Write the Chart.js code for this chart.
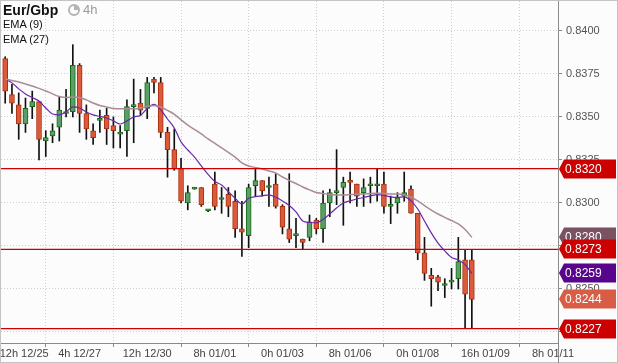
<!DOCTYPE html>
<html>
<head>
<meta charset="utf-8">
<script src="https://cdn.jsdelivr.net/npm/chart.js@4.4.1/dist/chart.umd.min.js"></script>
<style>
    html, body { margin: 0; padding: 0; background: #fcfcfc; }
    #wrap { position: relative; width: 618px; height: 363px; }
    .lbl { position: absolute; font-family: "Liberation Sans", Arial, sans-serif; white-space: nowrap; color: #111; }
    .title { left: 3px; top: 2px; font-size: 14px; line-height: 16px; font-weight: bold; }
    .tf { left: 83px; top: 2px; font-size: 13px; line-height: 16px; color: #9a9a9a; }
    .ema { left: 3px; font-size: 11px; line-height: 13px; }
    .clock { position: absolute; left: 68px; top: 4px; width: 8px; height: 8px; border-radius: 50%;
             border: 2px solid #b4b4b4; background: conic-gradient(#b4b4b4 0 25%, #fcfcfc 25% 100%); }
</style>
</head>
<body>
<div id="wrap">
    <canvas id="fxChart"></canvas>
    <div class="lbl title">Eur/Gbp</div>
    <span class="clock"></span>
    <div class="lbl tf">4h</div>
    <div class="lbl ema" style="top:18px">EMA (9)</div>
    <div class="lbl ema" style="top:33px">EMA (27)</div>
</div>
<script>
// 4h candles
const opens  = [0.8384, 0.8363, 0.8357, 0.8346, 0.8356, 0.8359, 0.8336, 0.8339, 0.8344, 0.8352,
                0.8353, 0.8380, 0.8352, 0.8342, 0.8348, 0.8351, 0.8345, 0.8340, 0.8342, 0.8356,
                0.8358, 0.8355, 0.8372, 0.8370, 0.8341, 0.8331, 0.8320, 0.8300, 0.8308, 0.8309,
                0.82955, 0.8311, 0.8302, 0.8305, 0.8301, 0.8285, 0.8281, 0.8310, 0.8313, 0.8309,
                0.8311, 0.8298, 0.8285, 0.8281, 0.8279, 0.8280, 0.8290, 0.8285, 0.8300, 0.8306,
                0.8309, 0.8313, 0.8311, 0.8306, 0.8310, 0.8310, 0.8311, 0.8298, 0.8300, 0.8304,
                0.8308, 0.8294, 0.8271, 0.8258, 0.8257, 0.8252, 0.8254, 0.8256, 0.8267, 0.8267];
const highs  = [0.8385, 0.8369, 0.8364, 0.8361, 0.8365, 0.8359, 0.8342, 0.8346, 0.8362, 0.8366,
                0.8392, 0.8381, 0.8357, 0.8346, 0.8354, 0.8355, 0.8350, 0.8345, 0.8360, 0.8372,
                0.8366, 0.8373, 0.8373, 0.8373, 0.8344, 0.8343, 0.8326, 0.8310, 0.8309, 0.8309,
                0.8296, 0.8318, 0.8309, 0.8309, 0.8307, 0.8301, 0.8311, 0.8320, 0.8313, 0.8315,
                0.8317, 0.8299, 0.8317, 0.8291, 0.8279, 0.8293, 0.8291, 0.8307, 0.8308, 0.8331,
                0.8315, 0.8318, 0.8311, 0.8314, 0.8315, 0.8320, 0.8318, 0.8304, 0.8306, 0.8318,
                0.8310, 0.8294, 0.8280, 0.8262, 0.8258, 0.8256, 0.8262, 0.8280, 0.8273, 0.8273];
const lows   = [0.8358, 0.8352, 0.8337, 0.8341, 0.8349, 0.8325, 0.8327, 0.8335, 0.8336, 0.8350,
                0.8350, 0.8341, 0.8337, 0.8334, 0.8341, 0.8334, 0.8332, 0.8332, 0.8327, 0.8335,
                0.8351, 0.8349, 0.8364, 0.8338, 0.8315, 0.8319, 0.8300, 0.8296, 0.8308, 0.8298,
                0.8295, 0.8296, 0.8294, 0.8292, 0.8280, 0.8269, 0.8274, 0.8304, 0.8304, 0.8298,
                0.8297, 0.8282, 0.8277, 0.8274, 0.8273, 0.8278, 0.8282, 0.8277, 0.8292, 0.8299,
                0.8287, 0.8300, 0.8298, 0.8298, 0.8300, 0.8301, 0.8294, 0.8288, 0.8294, 0.8301,
                0.8294, 0.8267, 0.8255, 0.8240, 0.8249, 0.8245, 0.8250, 0.8250, 0.8227, 0.8227];
const closes = [0.8365, 0.8358, 0.8346, 0.8355, 0.8359, 0.8337, 0.8338, 0.8342, 0.8354, 0.8353,
                0.8380, 0.8352, 0.8343, 0.8338, 0.8349, 0.8343, 0.8342, 0.8341, 0.8356, 0.8357,
                0.8354, 0.8370, 0.8370, 0.8341, 0.8331, 0.8320, 0.8301, 0.8306, 0.8309, 0.8299,
                0.8296, 0.8298, 0.8303, 0.8298, 0.8285, 0.8283, 0.8309, 0.8313, 0.8307, 0.8310,
                0.8298, 0.8286, 0.8279, 0.82815, 0.8277, 0.8289, 0.8285, 0.8300, 0.8306, 0.83065,
                0.8312, 0.8312, 0.8304, 0.8309, 0.83105, 0.83105, 0.8298, 0.8299, 0.8303, 0.8306,
                0.8294, 0.8271, 0.8259, 0.8256, 0.8254, 0.82525, 0.82545, 0.8266, 0.8247, 0.8244];

const ema9  = [0.83721, 0.83698, 0.83663, 0.83634, 0.83613, 0.83593, 0.83552, 0.83517, 0.83512, 0.83529,
               0.83558, 0.83552, 0.83529, 0.83512, 0.83503, 0.83494, 0.83477, 0.83459, 0.83477, 0.83500,
               0.83509, 0.83549, 0.83573, 0.83541, 0.83488, 0.83436, 0.83355, 0.83308, 0.83267, 0.83215,
               0.83166, 0.83125, 0.83105, 0.83066, 0.83027, 0.82994, 0.83027, 0.83037, 0.83041, 0.83047,
               0.83033, 0.83012, 0.82985, 0.82948, 0.82895, 0.82887, 0.82884, 0.82904, 0.82936, 0.82971,
               0.83000, 0.83012, 0.83023, 0.83032, 0.83041, 0.83049, 0.83044, 0.83035, 0.83032, 0.83035,
               0.83012, 0.82965, 0.82895, 0.82826, 0.82767, 0.82721, 0.82683, 0.82669, 0.82642, 0.8259];
const ema27 = [0.83721, 0.83712, 0.83703, 0.83692, 0.83680, 0.83666, 0.83651, 0.83634, 0.83619, 0.83613,
               0.83616, 0.83613, 0.83599, 0.83581, 0.83567, 0.83558, 0.83549, 0.83547, 0.83547, 0.83547,
               0.83552, 0.83561, 0.83567, 0.83558, 0.83538, 0.83515, 0.83483, 0.83453, 0.83427, 0.83401,
               0.83372, 0.83346, 0.83320, 0.83294, 0.83267, 0.83233, 0.83215, 0.83206, 0.83198, 0.83186,
               0.83174, 0.83151, 0.83131, 0.83113, 0.83093, 0.83076, 0.83061, 0.83055, 0.83049, 0.83047,
               0.83047, 0.83049, 0.83051, 0.83052, 0.83055, 0.83056, 0.83055, 0.83052, 0.83052, 0.83047,
               0.83035, 0.83012, 0.82985, 0.82959, 0.82936, 0.82916, 0.82898, 0.82878, 0.82846, 0.8280];

const levels = [0.8320, 0.8273, 0.8227];

const timeLabels = ['12h 12/25', '4h 12/27', '12h 12/30', '8h 01/01', '0h 01/03',
                    '8h 01/06', '0h 01/08', '16h 01/09', '8h 01/11'];
const timeIndex  = [1, 11, 21, 31, 41, 51, 61, 71, 81];
const priceTicks = [0.8400, 0.8375, 0.8350, 0.8325, 0.8300, 0.8275, 0.8250, 0.8225];

const xMin = -0.62, xMax = 81.74;
const yMin = 0.82186, yMax = 0.84174;

const FONT = '"Liberation Sans", Arial, sans-serif';
const last = closes.length - 1;
const idx = closes.map((_, i) => i);
const isUp = (i) => closes[i] >= opens[i];

const tagPlugin = {
    id: 'priceTags',
    beforeDraw(chart) {
        const { ctx, width, height } = chart;
        ctx.save();
        ctx.fillStyle = '#fcfcfc';
        ctx.fillRect(0, 0, width, height);
        ctx.restore();
    },
    afterDraw(chart) {
        const { ctx, chartArea, width, height } = chart;
        const y = chart.scales.y;
        ctx.save();
        // frame and axis line down through the time labels
        ctx.strokeStyle = '#c4c4c4';
        ctx.lineWidth = 1;
        ctx.strokeRect(0.5, 0.5, width - 1, height - 1);
        ctx.strokeStyle = '#8a8a8a';
        ctx.beginPath();
        ctx.moveTo(Math.round(chartArea.right) + 0.5, chartArea.bottom);
        ctx.lineTo(Math.round(chartArea.right) + 0.5, height);
        ctx.stroke();

        const tags = [
            [ema27[last], '#7a5262'],
            [levels[0], '#cc0000'],
            [levels[1], '#cc0000'],
            [ema9[last], '#58048c'],
            [closes[last], '#d95c45'],
            [levels[2], '#cc0000']
        ];
        const x0 = chartArea.right + 1;
        tags.forEach(([v, color]) => {
            const py = Math.round(y.getPixelForValue(v));
            ctx.fillStyle = color;
            ctx.beginPath();
            ctx.moveTo(x0, py);
            ctx.lineTo(x0 + 5, py - 9.5);
            ctx.lineTo(width - 2, py - 9.5);
            ctx.lineTo(width - 2, py + 9.5);
            ctx.lineTo(x0 + 5, py + 9.5);
            ctx.closePath();
            ctx.fill();
            ctx.fillStyle = '#ffffff';
            ctx.font = '12px ' + FONT;
            ctx.textBaseline = 'middle';
            ctx.textAlign = 'left';
            ctx.fillText(v.toFixed(4), x0 + 6, py + 0.5);
        });
        ctx.restore();
    }
};

const levelSets = levels.map((v) => ({
    type: 'line',
    data: [{ x: xMin, y: v }, { x: xMax, y: v }],
    borderColor: '#cc0000',
    borderWidth: 1.3,
    pointRadius: 0,
    order: 0
}));

new Chart(document.getElementById('fxChart'), {
    type: 'bar',
    data: {
        datasets: [
            ...levelSets,
            {
                type: 'line',
                label: 'EMA (27)',
                data: idx.map((i) => ({ x: i, y: ema27[i] })),
                borderColor: '#a88c98',
                borderWidth: 1.5,
                pointRadius: 0,
                cubicInterpolationMode: 'monotone',
                order: 1
            },
            {
                type: 'line',
                label: 'EMA (9)',
                data: idx.map((i) => ({ x: i, y: ema9[i] })),
                borderColor: '#6a28a8',
                borderWidth: 1.2,
                pointRadius: 0,
                cubicInterpolationMode: 'monotone',
                order: 1
            },
            {
                label: 'body',
                data: idx.map((i) => ({ x: i, y: [opens[i], closes[i]] })),
                backgroundColor: idx.map((i) => isUp(i) ? '#5a9e68' : '#dc5a3c'),
                borderColor: idx.map((i) => isUp(i) ? '#156a15' : '#a8300e'),
                borderWidth: 1,
                borderSkipped: false,
                barThickness: 5,
                minBarLength: 2,
                grouped: false,
                order: 2
            },
            {
                label: 'wick',
                data: idx.map((i) => ({ x: i, y: [lows[i], highs[i]] })),
                backgroundColor: '#111111',
                borderWidth: 0,
                barThickness: 1,
                grouped: false,
                order: 3
            }
        ]
    },
    options: {
        responsive: true,
        maintainAspectRatio: false,
        animation: false,
        layout: { padding: { left: 1, top: 1, right: 0, bottom: 0 } },
        plugins: { legend: { display: false }, tooltip: { enabled: false } },
        scales: {
            x: {
                type: 'linear',
                min: xMin,
                max: xMax,
                offset: false,
                afterBuildTicks: (scale) => { scale.ticks = timeIndex.map((v) => ({ value: v })); },
                afterFit: (scale) => { scale.height = 20; scale.paddingLeft = 0; scale.paddingRight = 0; },
                ticks: {
                    autoSkip: false,
                    maxRotation: 0,
                    padding: 0,
                    color: '#444',
                    font: { family: FONT, size: 11 },
                    callback: (value) => {
                        const k = timeIndex.indexOf(value);
                        if (k < 0) return '';
                        return k === 0 ? '        ' + timeLabels[k] : timeLabels[k];
                    }
                },
                grid: {
                    color: '#c9d2c9',
                    tickColor: '#8a8a8a',
                    tickLength: 4,
                    tickBorderDash: []
                },
                border: { color: '#8a8a8a', dash: [1, 2] }
            },
            y: {
                position: 'right',
                min: yMin,
                max: yMax,
                afterBuildTicks: (scale) => { scale.ticks = priceTicks.map((v) => ({ value: v })); },
                afterFit: (scale) => { scale.width = 60; scale.paddingTop = 0; scale.paddingBottom = 0; },
                ticks: {
                    padding: 4,
                    color: '#555',
                    font: { family: FONT, size: 11 },
                    callback: (value) => value.toFixed(4)
                },
                grid: {
                    color: '#c9d2c9',
                    tickColor: '#8a8a8a',
                    tickLength: 4,
                    tickBorderDash: []
                },
                border: { color: '#8a8a8a', dash: [1, 2] }
            }
        }
    },
    plugins: [tagPlugin]
});
</script>
</body>
</html>
